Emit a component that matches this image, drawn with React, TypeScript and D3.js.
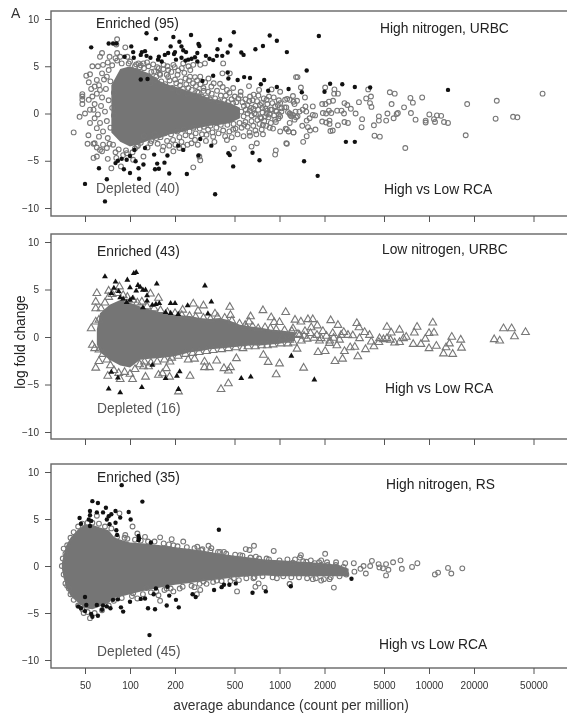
import React, { useEffect, useRef } from 'react';
import * as d3 from 'd3';

type Pt = [number, number];

const xTicks = [50, 100, 200, 500, 1000, 2000, 5000, 10000, 20000, 50000];
const yTicks = [10, 5, 0, -5, -10];

// saturated part of each cloud, single points can't be read there: abundance, upper, lower
const coreAbund1 = [75, 86, 100, 117, 136, 159, 185, 216, 252, 294, 343, 400, 467, 544];
const coreUp1 = [3, 4.7, 5, 4.6, 4.2, 3.4, 3, 2.7, 2.3, 2, 1.6, 1.4, 1.1, 0.6];
const coreLow1 = [-2, -3, -3.5, -3.2, -2.8, -2.6, -2.2, -2, -1.7, -1.5, -1.3, -1.2, -1, -0.5];

const coreAbund2 = [60, 63, 73, 86, 100, 117, 136, 159, 185, 216, 252, 294, 343, 400, 467, 544, 635, 740, 864, 1000, 1270];
const coreUp2 = [0.8, 2.5, 3.4, 3.9, 3.6, 3.2, 2.9, 2.6, 2.4, 2.3, 2.2, 2, 1.9, 2, 1.7, 1.3, 1.1, 1, 0.8, 0.7, 0.5];
const coreLow2 = [-0.8, -1.6, -2.4, -3, -3.2, -2.4, -2.3, -2.2, -2.1, -1.9, -1.6, -1.5, -1.3, -1.2, -1.1, -1, -0.9, -0.9, -0.8, -0.7, -0.4];

const coreAbund3 = [35, 36, 37.5, 40, 45, 50, 56, 63, 72, 79, 90, 100, 126, 160, 200, 252, 317, 400, 504, 635, 800, 1000, 1270, 1600, 2000, 2500, 2900];
const coreUp3 = [0.3, 1.2, 2.2, 3, 3.9, 4.4, 4.4, 4.1, 3.8, 3, 2.7, 2.5, 2.4, 2.2, 2, 1.8, 1.6, 1.3, 1.1, 0.9, 0.7, 0.6, 0.5, 0.4, 0.3, 0.1, -0.3];
const coreLow3 = [-0.3, -1.3, -2.3, -3.2, -3.9, -4.5, -4.6, -4.3, -3.9, -3.4, -3.2, -3, -2.6, -2.3, -2, -1.8, -1.6, -1.4, -1.2, -1.1, -1, -1.1, -1.1, -1.1, -1.1, -1.1, -1.1];

// significant points, [abundance, log fold change]
const sig1: Pt[] = [
  [55, 7], [72, 7.4], [77, 7.4], [81, 7.4], [102, 7.1], [105, 6.5], [92, 6], [106, 5.9], [120, 6.5], [126, 6.6], [118, 6.2], [129, 8.5], [129, 6.1], [137, 5.9], [149, 7.9], [156, 6], [154, 5.7], [163, 5.5], [171, 6.2], [180, 6.4], [187, 7.1], [195, 8.1], [200, 6.5], [197, 6.3], [203, 5.7], [214, 7.6], [221, 7.1], [227, 6.7], [237, 6.5], [221, 5.9], [235, 5.6], [245, 5.7], [256, 8.3], [258, 5.8], [272, 5.95], [282, 6.4], [287, 7.35], [291, 7.15], [282, 5.5], [322, 6.1], [340, 5.8], [360, 5.65], [381, 6.1], [385, 6.8], [400, 7.8], [414, 6.1], [450, 6.45], [470, 7.2], [495, 8.6], [555, 6.45], [575, 6.2], [690, 6.8], [775, 7.15], [860, 8.25], [960, 7.7], [1120, 6.5], [1833, 8.2], [1520, 4.55], [1150, 2.6], [1410, 2.25], [2000, 2.3], [2180, 3.15], [2630, 3.1], [3190, 2.8], [4040, 2.75], [13400, 2.5],
  [118, 3.6], [131, 3.65], [360, 4], [305, 3.45], [450, 4.35], [455, 3.7], [525, 3.55], [580, 3.85], [635, 3.75], [750, 3.1], [790, 3.55], [840, 2.4], [960, 2.8],
  [2780, -3], [3190, -3], [1460, -5.05], [1800, -6.6], [50, -7.45], [68, -9.3], [70, -6.95], [62, -5.8], [80, -5.25], [83, -5], [88, -4.8], [91, -5.9], [95, -4.9], [100, -6.3], [100, -4.5], [107, -3.85], [109, -5.05], [114, -5.8], [123, -5.4], [115, -6.9], [126, -3.65], [145, -4.35], [152, -5.3], [147, -5.9], [156, -5.85], [170, -5.2], [178, -4.45], [183, -6.35], [210, -3.4], [227, -3.85], [240, -6.4], [295, -2.7], [287, -4.45], [350, -3.4], [371, -8.55], [455, -4.2], [465, -4.4], [490, -5.6], [660, -4.15], [735, -4.95],
];

const sig2: Pt[] = [
  [68, 6.35], [80, 5.8], [78, 5.15], [75, 4.6], [84, 4.8], [96, 6], [100, 5.2], [106, 6.7], [110, 6.8], [113, 5.45], [117, 5.25], [110, 4.85], [122, 4.95], [127, 4.95], [130, 4.35], [130, 3.8], [86, 4.15], [90, 4], [95, 3.65], [100, 3.9], [104, 4.1], [122, 3.1], [141, 3.35], [151, 5.6], [149, 3.45], [157, 3.55], [187, 3.55], [200, 3.55], [187, 2.5], [173, 2.6], [210, 2.4], [243, 3.3], [317, 5.4], [350, 3.7], [332, 2.45],
  [75, -3.7], [72, -5.45], [86, -5.85], [83, -4.3], [120, -5.3], [141, -2.95], [173, -4.35], [206, -4.1], [215, -3.65], [211, -5.5], [555, -4.35], [642, -4.2], [1200, -2], [1710, -4.5],
];

const sig3: Pt[] = [
  [88, 8.6], [56, 6.9], [61, 6.7], [121, 6.85], [69, 6.2], [66, 5.7], [60, 5.7], [54, 5.85], [54, 5.4], [46, 5.1], [47, 4.5], [53, 4.95], [55, 4.8], [54, 4.25], [80, 5.85], [75, 5.5], [72, 5.3], [70, 4.95], [86, 5.15], [80, 4.6], [73, 4.45], [81, 3.8], [82, 3.3], [98, 5.75], [101, 4.95], [393, 3.85], [114, 3.2], [115, 2.95], [114, 2.75], [138, 2.5],
  [135, -7.35], [50, -3.3], [45, -4.3], [47, -4.5], [51, -4.15], [55, -5.1], [56, -5.4], [61, -5.3], [50, -4.8], [60, -4.15], [66, -4.2], [70, -4.3], [65, -4.65], [74, -4.5], [77, -3.6], [83, -3.55], [87, -4.4], [90, -4.85], [100, -3.8], [118, -3.5], [126, -3.45], [132, -4.5], [147, -4.6], [144, -3], [149, -2.4], [176, -4.2], [183, -3.15], [178, -2.2], [203, -3.6], [212, -4.4], [262, -3], [275, -3.3], [365, -2.55], [410, -2.25], [425, -2], [462, -2], [510, -1.85], [660, -2.85], [810, -2.7], [1190, -2.15], [3030, -1.35],
];

// not significant points around the saturated core
const open1: Pt[] = [
  [42, -2], [46, -0.35], [50, 0], [48, 2.05], [48, 1.8], [48, 1.45], [48, 1], [52.7, -2.3], [52, -3.2], [57, -3.2], [57, -4.7], [60, -4.55], [65, -4], [71, -4.8], [75, -5.8], [51, 4], [54, 4.15], [56, 5], [61, 5], [63, 6], [65, 6.4], [82, 7.85], [81, 7.3], [93, 7],
  [53, 1.45], [56, 1.8], [57, 0.4], [58, -0.5], [54, -1], [60, -1.55], [62, -2.45], [58, -3.15], [63, -3.85], [70, -3.65], [63, 2.5], [60, 3.55], [65, 4.25], [58, 2.85], [66, 5.15], [73, 6], [82, 6.4], [80, 5.85], [98, 5.3], [108, 5], [114, 5.3], [70, 3.9],
  [123, 5.3], [133, 5], [145, 4.45], [156, 4.8], [168, 5.15], [180, 4.6], [195, 5.15], [210, 4.55], [227, 5.3], [246, 5], [265, 5.15], [295, 5.15], [317, 5.3], [235, 3.7], [252, 3.9], [272, 3.85], [295, 3.9], [335, 3.7], [420, 5.3], [415, 4.25], [465, 4.25], [400, 3.15], [350, 2.85], [310, 2.7], [282, 2.3], [246, 2.7], [216, 3], [200, 3.6], [180, 3.85], [159, 4.1], [147, 3.55], [137, 3.2], [445, 2.5], [490, 2.7], [550, 2.3], [625, 2.9], [730, 2.5], [885, 2.55], [1010, 2.3], [1320, 3.85], [1125, 1.55], [1240, 1.25], [635, 1.8], [760, 1.1], [820, 1.45], [935, 0.75], [1010, 1.1], [680, 0], [755, -0.5], [820, 0], [935, -0.65], [1010, -0.3], [1180, -0.15], [1320, -0.3], [775, -1.2], [860, -1.5], [1010, -1.9], [1120, -1.65], [1240, -2], [635, -2.35], [700, -2.2], [775, -2.2], [650, -3.5], [705, -3.15], [1120, -3.2], [935, -4.35], [945, -3.9], [580, -1.2], [490, -1.7], [445, -2.8], [495, -3.7], [360, -2.45], [325, -2.25], [272, -2.8], [258, -3.15], [295, -4.95], [291, -4.55], [265, -5.7], [227, -3.5], [195, -4], [214, -3.65], [167, -3.5], [150, -2.6], [137, -3.15], [123, -4.55], [111, -3.5], [105, -4.9], [95, -4.2], [87, -5.6], [81, -4.7],
  [1290, 3.85], [1390, 2.75], [1480, 1.7], [1090, 1.45], [1170, 1.45], [1230, 1.85], [1310, 1.35], [1260, 1], [1030, 0.55], [1110, 0.65], [1490, 0.75], [1670, 0.75], [1930, 1], [2030, 1], [2140, 1.25], [2280, 1.35], [2020, 2.75], [2330, 2.55], [2460, 2.1], [2320, 2.1], [2720, 1.1], [2840, 0.9], [3000, 0.5], [2430, 0.3], [2600, 0.3], [2700, 0], [3230, 0], [3400, 1.2], [3570, -0.6], [3800, 1.6], [4090, 1.8], [3920, 2.55], [4030, 1.1], [4120, 0.7], [5470, 2.25], [5900, 2.1], [5620, 1], [7510, 1.65], [7800, 1.15], [9000, 1.7], [6810, 0.65], [7570, 0.05], [6190, 0.05], [6080, -0.05], [5800, -0.5], [5270, 0], [5170, -0.75], [4620, -0.3], [4620, -0.75], [4280, -1.25], [3540, -1.45], [2870, -1], [2720, -0.9], [2460, -1.25], [8130, -0.65], [9500, -0.75], [9500, -0.95], [10050, -0.1], [10800, -0.6], [10970, -0.9], [11300, -0.2], [12060, -0.25], [12600, -0.9], [13400, -1], [18000, 1], [28400, 1.35], [57500, 2.1], [27900, -0.55], [36500, -0.35], [39000, -0.4], [17600, -2.3], [6940, -3.65], [4320, -2.35], [4690, -2.45], [1110, -3.15], [1440, -3], [1520, -2.4], [2270, -1.8], [2190, -1.85], [1740, -1.7], [1600, -1.8], [1240, -2], [1150, -1.9], [1100, -1.6],
  [1170, 0], [1230, -0.15], [1290, -0.4], [1200, -0.3], [1260, -0.65], [1360, 0.2], [1430, 0.4], [1510, 0.2], [1590, -0.5], [1670, -0.15], [1730, -0.2], [1520, -0.75], [1420, -1.3], [1550, -1.45], [1170, -1], [1030, 0.2], [1080, 0.65], [1140, 0.15], [1280, 0.2], [1950, 0.05], [2050, 0], [2140, 0.3], [1930, -0.85], [2050, -0.95], [2160, -1.1], [2160, -0.75], [2220, 0.05],
];

// finer reading of the crowded band of the first cloud
const band1: Pt[] = [
  [118, 5.1], [124, 4.8], [130, 5.4], [139, 4.4], [143, 5.2], [150, 3.9], [152, 4.9], [158, 4.2], [162, 3.4], [167, 4.7], [172, 3.1], [176, 4.1], [178, 5], [184, 3.5], [189, 4.4], [192, 2.7], [199, 4.9], [204, 3.2], [208, 4.1], [212, 2.3], [218, 3.4], [222, 4.8], [226, 2.6], [231, 4.3], [238, 3.1], [243, 2.1], [248, 3.5], [253, 4.6], [259, 2.5], [264, 3.2], [268, 1.9], [276, 2.9], [281, 3.5], [288, 2.2], [296, 3.1], [302, 1.8], [311, 2.4], [318, 3.3], [326, 1.7], [333, 2.3], [342, 1.5], [352, 2.1], [363, 3.2], [371, 1.6], [382, 2.4], [392, 1.3], [405, 1.9], [417, 2.8], [428, 1.4], [438, 1.9], [452, 1.2], [463, 2.2], [478, 1.5], [489, 1.1], [502, 1.8], [514, 1.2], [530, 1.6], [548, 1.9], [565, 1.2], [578, 0.8], [592, 1.5], [610, 0.9], [628, 1.3], [645, 0.6], [660, 1.4], [672, 2], [690, 0.8], [708, 1.3], [722, 1.9], [742, 0.9], [768, 0.6], [785, 1.6], [805, 0.5], [830, 1], [850, 1.8], [872, 0.4], [895, 1.1], [915, 1.7], [948, 0.3], [975, 0.9], [990, 1.4],
  [118, -3.1], [124, -2.4], [131, -3.6], [139, -2.9], [146, -2.2], [153, -3.2], [160, -2.5], [165, -3.9], [171, -2.1], [177, -2.9], [183, -3.4], [188, -2.2], [194, -2.8], [201, -3.3], [207, -1.9], [214, -2.5], [221, -3], [229, -1.7], [235, -2.3], [242, -3.3], [250, -1.9], [258, -2.4], [266, -1.5], [275, -2.1], [284, -3.3], [293, -1.6], [303, -2.2], [312, -1.4], [322, -2.9], [333, -1.7], [345, -1.3], [356, -2], [367, -3], [378, -1.5], [391, -2.1], [405, -1.2], [420, -1.8], [433, -2.4], [448, -1.2], [462, -1.9], [479, -2.5], [493, -1.1], [508, -1.6], [524, -2.2], [540, -1], [558, -1.5], [575, -2.4], [592, -0.9], [612, -1.4], [630, -2], [650, -0.8], [668, -1.3], [690, -1.8], [712, -0.7], [735, -1.1], [760, -1.7], [790, -0.8], [815, -1.3], [845, -0.4], [875, -1], [905, -1.6], [945, -0.9], [985, -0.5],
  [555, 0.2], [575, -0.3], [595, 0.4], [612, 0], [632, 0.3], [650, -0.2], [668, 0.5], [695, -0.1], [720, 0.4], [745, -0.4], [770, 0.1], [800, -0.3], [830, 0.3], [860, -0.1], [890, 0.4], [920, -0.2], [955, 0.2], [990, -0.1],
  [58, 1], [60, 2.1], [61, -0.1], [62, 3], [63, -1], [64, 0.8], [65, 1.7], [66, -1.9], [67, 3.6], [68, 0.2], [69, 2.6], [70, -0.8], [71, -2.6], [72, 4.6], [72, 1.4], [73, -3.2], [74, 3.4], [74, -1.5], [76, 5.1], [76, 0.6], [77, -3.3], [78, 2.2], [78, -0.2], [80, -4.1], [82, 5.6], [84, -3.8], [86, 6], [88, 5.3], [90, -4.4], [94, -3.9], [96, 6], [100, 5.5], [104, -4.1], [108, -3.7], [113, -3.4], [110, 5.2], [116, 4.9], [71, 5.4], [60, -3.6], [66, -3.3], [54, 0.4], [55, 2.6], [53, 3.3],
];

const open2: Pt[] = [
  [55, 0.9], [59, 1.6], [56, -0.85], [58, -1.2], [62, -1.35], [62, -2.55], [59, -3.25], [71, -4.1], [86, -4.45], [104, -4.45], [127, -4.2], [155, -4], [165, -3.85], [184, -4.2], [252, -4.1], [211, -5.75], [406, -5.5], [455, -4.9], [425, -3.3], [470, -3.2], [455, -3.55], [950, -3.95], [1000, -2.8], [840, -2.65], [780, -1.9], [515, -2.25], [380, -2.5], [340, -3.2], [315, -3.2], [315, -2.6], [270, -2.3], [245, -2.4], [185, -2.6], [175, -3.3], [123, -3.1], [133, -3.1],
  [60, 4.6], [59, 3.7], [59, 3], [72, 4.85], [85, 5.3], [137, 4.55], [155, 4.1], [225, 2.85], [265, 3.5], [310, 3.3], [285, 2.75], [370, 2.45], [465, 3.15], [470, 2.3], [640, 2.15], [775, 2.8], [880, 2.05], [1000, 1.55], [920, 1.55], [1100, 2.6], [1270, 1.8], [590, 1.25], [625, 1.6],
  [1390, 1.6], [1550, 1.85], [1670, 1.85], [2200, 1.75], [2460, 1.25], [1630, 1], [1790, 1.2], [1480, 0.6], [3290, 1.45], [3400, 1], [5230, 1.05], [6350, 0.75], [5590, 0.45], [8320, 1.05], [7980, 0.45], [10600, 1.5], [10000, 0.4], [10800, 0.45], [14200, 0], [16300, -0.3], [16500, -1.15], [9450, -0.2], [8830, -0.75], [7840, -0.75], [11200, -0.95], [10000, -1.2], [13700, -0.7], [13000, -1.1], [12500, -1.75], [14400, -1.8], [31500, 0.9], [35700, 0.9], [44200, 0.5], [37300, 0.05], [27300, -0.25], [29700, -0.4],
  [7040, 0], [6750, -0.15], [6350, -0.55], [5890, -0.6], [5520, -0.3], [5230, -0.15], [4960, -0.25], [4670, -0.15], [4620, -0.55], [4280, -1], [4110, -0.5], [3760, -1.3], [3340, -2.05], [3190, -1.05], [2970, -1.1], [2720, -1.5], [2640, -2.3], [2350, -2.55], [2020, -1.5], [1450, -3.25], [1810, -1.6], [1310, -1.25], [4000, 0.2], [3710, 0.5], [3430, -0.15], [3090, 0.15], [2870, 0.2], [2690, 0.5], [2520, -0.3], [2270, 0.4], [2160, -0.65], [1900, -0.15], [1360, 0.2], [1170, -0.3], [1050, 0], [1230, 0.9],
];

const band2: Pt[] = [
  [62, 1.8], [64, 3], [66, -1.8], [68, 3.6], [70, -2.4], [72, 4.2], [74, -3], [76, 4.5], [78, -3.5], [82, 4.6], [84, -3.8], [90, 4.4], [92, -3.7], [96, 4.2], [100, -3.9], [105, 3.9], [108, -3.4], [112, 3.6], [116, -2.9], [120, 3.7], [125, -2.6], [130, 3.2], [138, -2.7], [145, 3], [152, -2.6], [160, 2.8], [170, -2.4], [178, 2.6], [190, -2.2], [200, 2.5], [210, -2], [222, 2.3], [235, -1.8], [250, 2.2], [262, -1.7], [275, 2.1], [290, -1.6], [310, 2], [325, -1.5], [345, 1.9], [360, -1.4], [385, 2.1], [410, -1.3], [430, 2], [455, -1.2], [480, 1.7], [510, -1.1], [540, 1.4], [570, -1.2], [600, 1], [615, -1], [660, 1.1], [690, -1], [720, 0.9], [760, -0.9], [800, 1], [830, -0.9], [870, 0.9], [905, -0.8], [950, 0.8], [1020, -0.7], [1080, 0.7], [1140, -0.7], [1210, 0.6], [1240, -0.6], [1330, 0.3], [1400, -0.4], [1460, 0.1], [1530, -0.2], [1610, 0.4], [1700, -0.1], [1780, 0.2], [1850, -0.4], [1950, 0.6], [2060, 0.1], [2170, -0.4], [2300, -0.1], [2420, -0.9], [2580, 0.2],
];

const open3: Pt[] = [
  [36, 1.85], [35, 0], [37, 1.3], [37, -1.85], [39, -2.4], [85, 5.6], [60, 5.35], [104, 4.2], [112, 3.45], [93, 3.3], [126, 3.1], [159, 3.05], [190, 2.85], [195, 2.2], [227, 2.6], [282, 2.05], [335, 2.15], [350, 1.9], [300, 1.7], [400, 1.5], [425, 1.5], [545, 1.15], [595, 1.8], [630, 1.7], [675, 2.15], [915, 1.6], [695, 1], [820, 0.8], [1370, 0.9],
  [159, -3.7], [520, -2.7], [295, -2.55], [270, -2.25], [280, -3], [215, -2.4], [195, -2.7], [170, -2.55], [155, -3.1], [129, -2.35], [112, -3.45], [105, -2.9], [54, -5.55], [49, -5], [690, -2.2], [795, -2.3], [725, -1.85], [1170, -1.9], [960, -1.3], [670, -1.3], [495, -1.3], [380, -1.55], [310, -1.65],
  [2020, 1.3], [1390, 1.15], [1900, 0.6], [1510, 0.45], [2390, 0.4], [3140, 0.3], [4150, 0.55], [4600, 0.2], [5160, 0.2], [5750, 0.4], [6450, 0.6], [8360, 0.3], [7700, -0.1], [6580, -0.3], [5350, -0.4], [4920, -0.25], [4660, -0.15], [4040, 0], [3780, -0.8], [3480, -0.3], [3170, -0.6], [3650, 0], [5160, -1], [13400, -0.2], [16700, -0.25], [14100, -0.8], [11500, -0.7], [10950, -0.9], [2310, -2.3], [1170, -1.9], [1670, -1.4], [1900, -1.55], [2160, -1.4], [2750, 0.3], [2100, 0.1], [1720, 0.3], [1230, 0.35],
];

const band3: Pt[] = [
  [35.5, 0.8], [36, -0.9], [38, 2.2], [38, -2.1], [40, 3], [40, -3], [42, 3.6], [42, -3.6], [45, 4.2], [45, -4.2], [48, 4.5], [48, -4.6], [52, 4.6], [52, -4.9], [56, 4.6], [58, -5], [62, 4.5], [65, -4.7], [68, 4.2], [72, -4.2], [75, 4], [78, -3.7], [82, 3.1], [88, -3.4], [92, 3], [96, 2.9], [103, -3.2], [108, 2.8], [118, 2.7], [122, -3], [132, 2.6], [138, -2.8], [146, 2.6], [150, -2.7], [168, 2.4], [176, -2.4], [182, 2.3], [187, -2.4], [208, 2.1], [225, -2.2], [240, 2], [258, -2.1], [270, 1.9], [292, -1.9], [305, 1.8], [325, -1.9], [345, 1.6], [360, -1.7], [388, 1.5], [410, -1.6], [440, 1.3], [470, -1.6], [505, 1.2], [535, -1.5], [565, 1.1], [600, -1.3], [640, 0.9], [680, -1.2], [730, 0.8], [770, -1.1], [850, 0.7], [900, -1.2], [1000, 0.6], [1060, -1.1], [1130, 0.7], [1200, -1.2], [1270, 0.7], [1350, -1.2], [1440, 0.5], [1530, -1.3], [1620, 0.6], [1750, -1.3], [1840, 0.4], [1980, -1.4], [2080, 0.4], [2200, -1.2], [2380, 0.1], [2520, -1.1], [2680, -0.1], [2800, -0.9],
];

const x = d3.scaleLog().domain([50, 50000]).range([85, 533.5]);

const panels = [
  {
    top: 11, bottom: 216, y10: 19, yMinus10: 208, shape: 'circle',
    coreA: coreAbund1, coreU: coreUp1, coreL: coreLow1, open: [...open1, ...band1], sig: sig1,
    enriched: 'Enriched (95)', enrichedAt: [96, 28], depleted: 'Depleted (40)', depletedAt: [96, 193],
    title: 'High nitrogen, URBC', titleAt: [380, 33], contrastAt: [384, 194],
  },
  {
    top: 234, bottom: 439, y10: 242, yMinus10: 432, shape: 'triangle',
    coreA: coreAbund2, coreU: coreUp2, coreL: coreLow2, open: [...open2, ...band2], sig: sig2,
    enriched: 'Enriched (43)', enrichedAt: [97, 256], depleted: 'Depleted (16)', depletedAt: [97, 413],
    title: 'Low nitrogen, URBC', titleAt: [382, 254], contrastAt: [385, 393],
  },
  {
    top: 464, bottom: 668, y10: 472, yMinus10: 660, shape: 'circle',
    coreA: coreAbund3, coreU: coreUp3, coreL: coreLow3, open: [...open3, ...band3], sig: sig3,
    enriched: 'Enriched (35)', enrichedAt: [97, 482], depleted: 'Depleted (45)', depletedAt: [97, 656],
    title: 'High nitrogen, RS', titleAt: [386, 489], contrastAt: [379, 649],
  },
];

const grey = '#757575';
const sans = '"Liberation Sans", Arial, sans-serif';

const App = () => {
  const svgRef = useRef<SVGSVGElement>(null);

  useEffect(() => {
    const svg = d3.select(svgRef.current);
    svg.selectAll('*').remove();

    panels.forEach((p, i) => {
      const y = d3.scaleLinear().domain([-10, 10]).range([p.yMinus10, p.y10]);
      const g = svg.append('g');

      //saturated core
      const core = d3.area<number>()
        .x(d => x(d))
        .y0((d, j) => y(p.coreL[j]))
        .y1((d, j) => y(p.coreU[j]));
      g.append('path').attr('d', core(p.coreA)).attr('fill', grey);

      //open markers then filled ones
      if (p.shape === 'circle') {
        g.selectAll('.open').data(p.open).enter().append('circle')
          .attr('cx', d => x(d[0])).attr('cy', d => y(d[1])).attr('r', 2.4)
          .attr('fill', 'none').attr('stroke', '#777').attr('stroke-width', 1.1);
        g.selectAll('.sig').data(p.sig).enter().append('circle')
          .attr('cx', d => x(d[0])).attr('cy', d => y(d[1])).attr('r', 2.2)
          .attr('fill', '#111');
      } else {
        const bigTri = d3.symbol(d3.symbolTriangle, 26)();
        const smallTri = d3.symbol(d3.symbolTriangle, 15)();
        g.selectAll('.open').data(p.open).enter().append('path')
          .attr('d', bigTri).attr('transform', d => `translate(${x(d[0])},${y(d[1])})`)
          .attr('fill', 'none').attr('stroke', '#777').attr('stroke-width', 1.1);
        g.selectAll('.sig').data(p.sig).enter().append('path')
          .attr('d', smallTri).attr('transform', d => `translate(${x(d[0])},${y(d[1])})`)
          .attr('fill', '#111');
      }

      //frame runs off the right edge of the picture
      g.append('rect').attr('x', 51).attr('y', p.top).attr('width', 540).attr('height', p.bottom - p.top)
        .attr('fill', 'none').attr('stroke', '#666').attr('stroke-width', 1.4);

      //axes
      const yAxis = d3.axisLeft(y).tickValues(yTicks).tickSize(6).tickPadding(6)
        .tickFormat(d => String(d).replace('-', '\u2212'));
      const ya = g.append('g').attr('transform', 'translate(51,0)').call(yAxis);
      ya.select('.domain').remove();
      ya.selectAll('line').attr('stroke', '#555');
      ya.selectAll('text').attr('font-family', sans).attr('font-size', 10).attr('fill', '#333');

      const xAxis = d3.axisBottom(x).tickValues(xTicks).tickSize(6).tickPadding(8)
        .tickFormat(d => (i === 2 ? String(d) : ''));
      const xa = g.append('g').attr('transform', `translate(0,${p.bottom})`).call(xAxis);
      xa.select('.domain').remove();
      xa.selectAll('line').attr('stroke', '#555');
      xa.selectAll('text').attr('font-family', sans).attr('font-size', 10).attr('fill', '#333');

      //labels
      const label = (txt: string, at: number[], fill: string) =>
        g.append('text').attr('x', at[0]).attr('y', at[1]).attr('font-family', sans)
          .attr('font-size', 13.8).attr('fill', fill).text(txt);
      label(p.enriched, p.enrichedAt, '#222');
      label(p.depleted, p.depletedAt, '#555');
      label(p.title, p.titleAt, '#222');
      label('High vs Low RCA', p.contrastAt, '#222');
    });

    svg.append('text').attr('x', 11).attr('y', 18).attr('font-family', sans).attr('font-size', 14)
      .attr('fill', '#333').text('A');
    svg.append('text').attr('transform', 'translate(25,342) rotate(-90)').attr('text-anchor', 'middle')
      .attr('font-family', sans).attr('font-size', 13.8).attr('fill', '#222').text('log fold change');
    svg.append('text').attr('x', 291).attr('y', 710).attr('text-anchor', 'middle')
      .attr('font-family', sans).attr('font-size', 13.8).attr('fill', '#333')
      .text('average abundance (count per million)');
  }, []);

  return (
    <svg ref={svgRef} width={567} height={720}
      style={{ position: 'absolute', left: 0, top: 0, background: '#fff', filter: 'blur(0.4px)' }} />
  );
};

export default App;
